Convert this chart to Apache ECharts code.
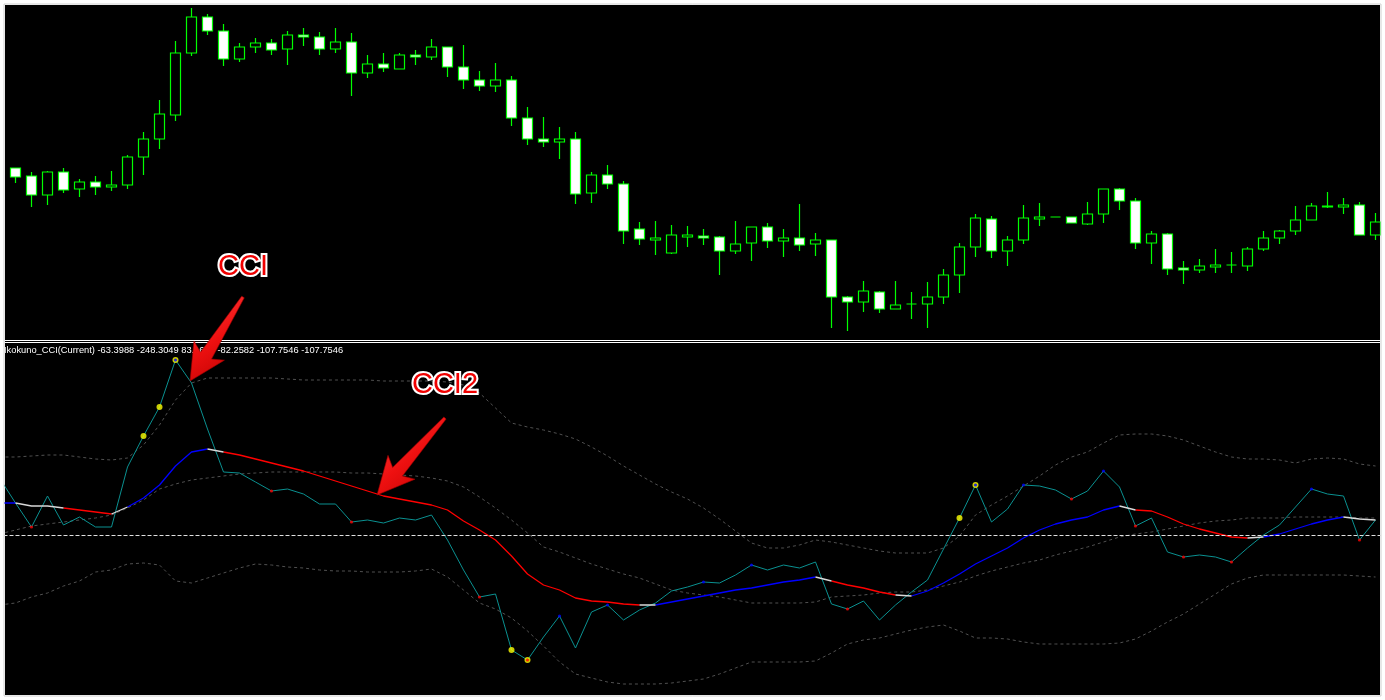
<!DOCTYPE html>
<html><head><meta charset="utf-8">
<script src="https://cdn.jsdelivr.net/npm/echarts/dist/echarts.min.js"></script>
<style>html,body{margin:0;padding:0;background:#fff;overflow:hidden}#c{width:1385px;height:700px}</style>
</head><body><div id="c"></div>
<script>
// ---- bar labels: bar -1 is the partly hidden bar left of the visible window
const bars = [];
for (let i = -1; i <= 85; i++) bars.push(String(i));

// ---- price candles (bars 0..85), in price points
const open  = [172,164,145,168,151,158,153,155,183,201,225,287,323,309,281,293,297,291,305,303,291,298,267,276,271,285,283,293,273,260,254,260,222,201,198,201,147,165,156,111,100,87,103,104,103,89,97,113,99,102,96,100,43,38,48,31,36,36,43,65,93,121,89,100,121,123,123,116,126,151,139,97,106,72,70,73,75,74,91,102,109,120,133,133,135,105];
const close = [163,145,168,150,158,153,155,183,201,226,287,323,309,281,293,297,290,305,303,291,298,267,276,272,285,283,293,273,260,254,260,222,201,198,201,146,165,156,109,101,102,105,105,102,89,96,113,99,102,95,100,43,38,49,31,35,36,43,65,93,122,89,100,122,123,123,117,126,151,139,97,106,71,70,74,75,75,91,102,109,120,134,134,135,105,118];
const low   = [157,133,135,147,143,145,149,151,165,191,219,284,305,274,278,287,285,275,294,285,287,244,262,268,271,275,280,263,251,249,248,214,195,193,181,136,137,151,96,95,85,86,93,95,65,86,79,92,83,89,84,12,9,28,27,31,21,12,36,47,83,82,74,96,114,123,117,115,117,130,91,76,65,56,67,67,67,69,89,96,105,120,132,126,105,100];
const high  = [172,168,169,172,161,164,169,185,208,240,299,332,326,316,297,302,301,309,312,308,312,307,285,287,287,290,301,293,295,269,277,264,233,223,213,208,168,175,159,118,119,115,114,111,104,119,113,117,111,136,107,100,44,59,49,59,48,58,71,97,126,124,104,135,137,123,123,138,151,152,142,109,107,79,81,91,88,93,109,110,134,137,148,142,138,127];

// ---- indicator pane (bars -1..85)
const cci = [114,64,16,78,20,36,16,16,136,198,256,350,304,212,126,124,106,88,92,82,62,62,26,30,24,34,30,40,-10,-70,-124,-118,-230,-250,-204,-162,-226,-154,-140,-170,-150,-136,-112,-104,-94,-96,-80,-60,-70,-60,-66,-54,-138,-148,-132,-170,-140,-114,-90,-28,34,100,26,52,100,98,90,72,88,128,96,18,34,-34,-44,-40,-44,-54,-26,0,20,56,92,82,78,-10,30];
const cci2 = [64,64,58,58,54,50,46,42,56,74,100,138,166,172,166,160,152,144,136,128,118,108,98,88,78,72,66,60,50,28,10,-10,-42,-78,-100,-110,-126,-132,-134,-138,-140,-140,-134,-128,-122,-116,-110,-106,-100,-94,-90,-84,-92,-100,-106,-114,-120,-122,-112,-96,-78,-58,-42,-26,-6,10,22,30,36,50,58,50,48,36,22,12,4,-4,-6,-4,2,12,22,30,36,32,30];
// state of the CCI2 segment that ends at each bar: U up (blue), D down (red), F neutral (white)
const cci2Trend = ("NUFFFDDDFUUUUUF" + "DDDDDDDDDDDDDDDDDDDDDDDDDD" + "F" + "UUUUUUUUUU" + "F" + "DDDD" + "F" + "UUUUUUUUUUUUU" + "F" + "DDDDDDD" + "F" + "UUUUU" + "FF").split("");
const bandUpper = [156,156,158,160,160,156,152,150,154,180,220,270,304,314,314,314,314,314,312,310,310,310,310,310,308,308,308,308,306,300,284,254,224,216,210,202,192,176,158,138,120,102,86,72,54,32,8,-16,-26,-26,-20,-10,-14,-20,-26,-32,-36,-36,-36,-26,-2,40,60,78,98,118,140,156,166,184,200,202,202,198,190,178,166,156,152,152,150,144,152,154,152,142,138];
const bandMid = [2,10,18,22,26,30,34,40,54,70,92,102,110,114,118,122,124,126,126,126,126,126,124,124,122,120,118,114,108,96,76,54,30,4,-24,-34,-46,-58,-68,-78,-86,-98,-110,-116,-120,-124,-130,-136,-136,-136,-136,-134,-124,-122,-120,-116,-114,-114,-110,-102,-94,-82,-72,-64,-56,-50,-40,-32,-24,-14,-4,2,6,12,18,24,28,30,34,34,34,36,36,36,36,34,34];
const bandLower = [-140,-136,-124,-116,-102,-92,-74,-70,-58,-56,-60,-92,-96,-86,-76,-66,-58,-60,-64,-66,-70,-72,-72,-74,-74,-74,-72,-68,-84,-110,-136,-148,-166,-192,-222,-254,-278,-286,-294,-298,-298,-298,-296,-292,-288,-278,-266,-254,-254,-254,-254,-252,-236,-218,-210,-206,-198,-190,-184,-180,-192,-206,-206,-208,-214,-218,-218,-218,-218,-218,-216,-208,-192,-174,-158,-138,-118,-98,-86,-80,-80,-80,-80,-80,-80,-82,-84];
const signalBars = [8,9,10,31,32,59,60];
const swingHighBars = [10,34,37,43,46,60,63,68,81];
const swingLowBars = [1,16,21,29,32,52,66,70,73,76,84];
const headerText = "Ikokuno_CCI(Current) -63.3988 -248.3049 83.1657 -82.2582 -107.7546 -107.7546";

// ---- build options
const candleData = [['-','-','-','-']].concat(open.map((o, i) => [o, close[i], low[i], high[i]]));
function trendPart(code) {
  return cci2.map((v, i) => (cci2Trend[i] === code || cci2Trend[i + 1] === code) ? v : null);
}
function dots(list) { return list.map(b => [b + 1, cci[b + 1]]); }

const chart = echarts.init(document.getElementById('c'), null, {renderer: 'canvas'});
const dash = {color: '#505050', width: 1, type: [3, 3]};
function bandSeries(data) {
  return {type: 'line', xAxisIndex: 1, yAxisIndex: 1, data, symbol: 'none', silent: true,
          lineStyle: dash, z: 2};
}
function trendSeries(code, color) {
  return {type: 'line', xAxisIndex: 1, yAxisIndex: 1, data: trendPart(code), symbol: 'none',
          connectNulls: false, silent: true, lineStyle: {color, width: 1.3}, z: 4};
}
function arrow(tail, tip, headLen, headHalf, shaftHalf, tailHalf) {
  const dx = tip[0] - tail[0], dy = tip[1] - tail[1];
  const L = Math.hypot(dx, dy), ux = dx / L, uy = dy / L, nx = -uy, ny = ux;
  const hx = tip[0] - ux * headLen, hy = tip[1] - uy * headLen;
  const bx = hx + ux * 6, by = hy + uy * 6;
  return [
    [tail[0] - nx * tailHalf, tail[1] - ny * tailHalf],
    [bx - nx * shaftHalf, by - ny * shaftHalf],
    [hx - nx * headHalf, hy - ny * headHalf],
    tip,
    [hx + nx * headHalf, hy + ny * headHalf],
    [bx + nx * shaftHalf, by + ny * shaftHalf],
    [tail[0] + nx * tailHalf, tail[1] + ny * tailHalf]
  ];
}
const arrowFill = new echarts.graphic.LinearGradient(0, 0, 1, 1, [
  {offset: 0, color: '#ff4040'}, {offset: 0.5, color: '#ee1010'}, {offset: 1, color: '#b80000'}]);
function label(text, x, y) {
  return {type: 'text', z: 90, style: {text, x, y, fill: '#f00000', stroke: '#ffffff', lineWidth: 4,
    font: '29px "Liberation Sans", Arial, sans-serif', textAlign: 'center', textVerticalAlign: 'middle',
    shadowColor: 'rgba(150,150,150,0.9)', shadowBlur: 3, shadowOffsetX: 1, shadowOffsetY: 1}};
}

const option = {
  backgroundColor: '#ffffff',
  animation: false,
  grid: [
    {left: -8.5, width: 1392, top: 5, height: 335, outerBoundsMode: 'none', containLabel: false},
    {left: -8.5, width: 1392, top: 343, height: 352, outerBoundsMode: 'none', containLabel: false}
  ],
  xAxis: [
    {type: 'category', data: bars, gridIndex: 0, boundaryGap: true, show: false},
    {type: 'category', data: bars, gridIndex: 1, boundaryGap: true, show: false}
  ],
  yAxis: [
    {type: 'value', gridIndex: 0, min: 0, max: 335, show: false, splitLine: {show: false}},
    {type: 'value', gridIndex: 1, min: -320, max: 384, show: false, splitLine: {show: false}}
  ],
  series: [
    {type: 'candlestick', xAxisIndex: 0, yAxisIndex: 0, data: candleData, barWidth: 10, silent: true,
     itemStyle: {color: '#000000', color0: '#ffffff', borderColor: '#00ff00', borderColor0: '#00ff00',
                 borderColorDoji: '#00ff00', borderWidth: 1.2}},
    bandSeries(bandUpper), bandSeries(bandMid), bandSeries(bandLower),
    {type: 'line', xAxisIndex: 1, yAxisIndex: 1, data: cci, symbol: 'none', silent: true,
     lineStyle: {color: '#0a9090', width: 1}, z: 3,
     markLine: {silent: true, symbol: 'none', label: {show: false},
       lineStyle: {color: '#e0e0e0', width: 1, type: [4, 2]}, data: [{yAxis: 0}]}},
    trendSeries('D', '#ff0000'), trendSeries('U', '#0000ff'), trendSeries('F', '#d8d8d8'),
    {type: 'scatter', xAxisIndex: 1, yAxisIndex: 1, data: dots(signalBars), symbolSize: 6, silent: true,
     itemStyle: {color: '#ffff00'}, z: 5},
    {type: 'scatter', xAxisIndex: 1, yAxisIndex: 1, data: dots(swingHighBars), symbolSize: 3.2, silent: true,
     itemStyle: {color: '#0000ff'}, z: 6},
    {type: 'scatter', xAxisIndex: 1, yAxisIndex: 1, data: dots(swingLowBars), symbolSize: 3.2, silent: true,
     itemStyle: {color: '#ff0000'}, z: 6}
  ],
  graphic: [
    {type: 'rect', z: -5, silent: true, shape: {x: 5, y: 5, width: 1375, height: 690}, style: {fill: '#000'}},
    {type: 'rect', z: 50, silent: true, shape: {x: 5, y: 340, width: 1375, height: 1}, style: {fill: '#fff'}},
    {type: 'rect', z: 50, silent: true, shape: {x: 5, y: 342, width: 1375, height: 1}, style: {fill: '#fff'}},
    {type: 'text', z: 60, silent: true, style: {text: headerText, x: 4, y: 346, fill: '#ffffff',
      font: '9.3px "Liberation Sans", Arial, sans-serif', textVerticalAlign: 'top'}},
    {type: 'polygon', z: 80, silent: true, shape: {points: arrow([243, 297], [190, 381], 36, 18, 6.5, 1.5)},
     style: {fill: arrowFill, stroke: '#a00000', lineWidth: 0.6}},
    {type: 'polygon', z: 80, silent: true, shape: {points: arrow([445, 418], [377, 495], 37, 18, 6.5, 1.5)},
     style: {fill: arrowFill, stroke: '#a00000', lineWidth: 0.6}},
    label('CCI', 243, 267),
    label('CCI2', 445, 385),
    // window frame
    {type: 'rect', z: 100, silent: true, shape: {x: 0, y: 0, width: 1385, height: 4}, style: {fill: '#fff'}},
    {type: 'rect', z: 100, silent: true, shape: {x: 0, y: 696, width: 1385, height: 4}, style: {fill: '#fff'}},
    {type: 'rect', z: 100, silent: true, shape: {x: 0, y: 0, width: 4, height: 700}, style: {fill: '#fff'}},
    {type: 'rect', z: 100, silent: true, shape: {x: 1381, y: 0, width: 4, height: 700}, style: {fill: '#fff'}},
    {type: 'rect', z: 101, silent: true, shape: {x: 4, y: 4, width: 1377, height: 692},
     style: {fill: 'none', stroke: '#d0d0d0', lineWidth: 1}}
  ]
};
chart.setOption(option);
</script></body></html>
